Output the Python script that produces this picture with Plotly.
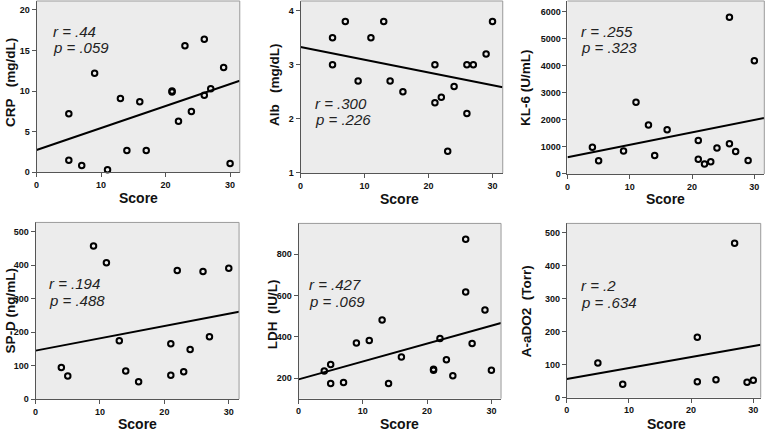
import plotly.graph_objects as go

# ---------------- data ----------------
crp_x = [5, 5, 7, 9, 11, 13, 14, 16, 17, 21, 21, 22, 23, 24, 26, 26, 27, 29, 30]
crp_y = [7.2, 1.5, 0.85, 12.2, 0.3, 9.1, 2.7, 8.7, 2.7, 10.0, 9.9, 6.3, 15.6, 7.5, 16.4, 9.5, 10.3, 12.9, 1.1]

alb_x = [5, 5, 7, 9, 11, 13, 14, 16, 21, 21, 22, 23, 24, 26, 26, 27, 29, 30]
alb_y = [3.5, 3.0, 3.8, 2.7, 3.5, 3.8, 2.7, 2.5, 3.0, 2.3, 2.4, 1.4, 2.6, 3.0, 2.1, 3.0, 3.2, 3.8]

kl6_x = [4, 5, 9, 11, 13, 14, 16, 21, 21, 22, 23, 24, 26, 26, 27, 29, 30]
kl6_y = [985, 485, 850, 2650, 1810, 680, 1630, 1240, 545, 365, 450, 960, 5790, 1120, 828, 495, 4185]

spd_x = [4, 5, 9, 11, 13, 14, 16, 21, 21, 22, 23, 24, 26, 27, 30]
spd_y = [94, 69, 457, 407, 174, 84, 52, 165, 71, 384, 82, 148, 381, 186, 391]

ldh_x = [4, 5, 5, 7, 9, 11, 13, 14, 16, 21, 21, 22, 23, 24, 26, 26, 27, 29, 30]
ldh_y = [234, 265, 174, 178, 369, 382, 481, 174, 302, 237, 242, 391, 288, 211, 871, 616, 367, 529, 238]

aado2_x = [5, 9, 21, 21, 24, 27, 29, 30]
aado2_y = [105, 41, 183, 48, 54, 467, 47, 53]

# regression lines (intercept, slope)
fit_intercept = [2.75, 3.33, 621, 144.7, 193.6, 56.8]
fit_slope = [0.271, -0.0236, 45.8, 3.67, 8.66, 3.32]

y_titles = ["CRP\u00a0\u00a0\u00a0(mg/dL)", "Alb\u00a0\u00a0\u00a0(mg/dL)", "KL-6 (U/mL)",
            "SP-D (ng/mL)", "LDH\u00a0\u00a0(IU/L)", "A-aDO2\u00a0\u00a0(Torr)"]
r_labels = ["r = .44", "r = .300", "r = .255", "r = .194", "r = .427", "r = .2"]
p_labels = ["p = .059", "p = .226", "p = .323", "p = .488", "p = .069", "p = .634"]
x_title = "Score"

xs = [crp_x, alb_x, kl6_x, spd_x, ldh_x, aado2_x]
ys = [crp_y, alb_y, kl6_y, spd_y, ldh_y, aado2_y]

# ---------------- layout (pixels) ----------------
W, H = 766, 437
def fx(p):
    return p / W
def fy(p):
    return 1 - p / H

# plot rectangles: left, right, top, bottom (px)
rects = [
    (33.7, 237.7, 1, 174.3),
    (298.7, 501.7, 1, 175),
    (566.7, 764.3, 1, 176),
    (32.7, 237, 225, 403.7),
    (296.7, 500, 226, 403.3),
    (566, 760.7, 226, 402.3),
]
x_ranges = [31.5, 31.6, 31.6, 31.6, 31.5, 31.2]
y_ranges = [(0, 21.1), (1, 4.18), (0, 6390), (0, 527.6), (100, 948), (0, 527)]
y_dticks = [5, 1, 1000, 100, 200, 100]
ytitle_pos = [(7, 83), (272, 86), (525, 88), (7, 314), (270, 318), (525, 315)]
xtitle_pos = [(136, 200), (398, 201), (665, 201), (135, 429), (398, 429), (666, 429)]
rp_pos = [(48, 32, 48.5), (311.7, 105, 121), (578.3, 31.7, 48.3),
          (44.3, 286.7, 304), (305, 287.7, 305), (578.3, 288.3, 305.7)]

FONT = "Liberation Sans, Arial, sans-serif"
AXIS_COL = "#555555"
BORDER_COL = "#9a9a9a"

fig = go.Figure()
layout = dict(width=W, height=H, margin=dict(l=0, r=0, t=0, b=0),
              paper_bgcolor="white", plot_bgcolor="#ececec", showlegend=False,
              font=dict(family=FONT, color="#111111"))
annotations = []
shapes = []

for i in range(6):
    n = i + 1
    sfx = "" if n == 1 else str(n)
    L, R, T, B = rects[i]
    xmax = x_ranges[i]
    # scatter
    fig.add_trace(go.Scatter(
        x=xs[i], y=ys[i], mode="markers",
        marker=dict(symbol="circle-open", size=5.5, color="black", line=dict(width=2, color="black")),
        xaxis="x" + sfx, yaxis="y" + sfx, cliponaxis=False))
    # fit line
    lx = [0, xmax]
    ly = [fit_intercept[i] + fit_slope[i] * v for v in lx]
    fig.add_trace(go.Scatter(x=lx, y=ly, mode="lines", line=dict(color="black", width=2),
                             xaxis="x" + sfx, yaxis="y" + sfx))
    layout["xaxis" + sfx] = dict(
        domain=[fx(L), fx(R)], anchor="y" + sfx, range=[0, xmax],
        tickmode="linear", tick0=0, dtick=10, ticks="outside", ticklen=4, tickwidth=1,
        tickcolor=AXIS_COL, showline=True, linecolor=AXIS_COL, linewidth=1,
        showgrid=False, zeroline=False,
        tickfont=dict(size=9, family=FONT, weight="bold", color="#111111"))
    layout["yaxis" + sfx] = dict(
        domain=[fy(B), fy(T)], anchor="x" + sfx, range=list(y_ranges[i]),
        tickmode="linear", tick0=0, dtick=y_dticks[i], ticks="outside", ticklen=4, tickwidth=1,
        tickcolor=AXIS_COL, showline=True, linecolor=AXIS_COL, linewidth=1,
        showgrid=False, zeroline=False,
        tickfont=dict(size=9, family=FONT, weight="bold", color="#111111"))
    # light border on top/right
    shapes.append(dict(type="line", xref="x" + sfx + " domain", yref="y" + sfx + " domain",
                       x0=0, x1=1, y0=1, y1=1, line=dict(color=BORDER_COL, width=1)))
    shapes.append(dict(type="line", xref="x" + sfx + " domain", yref="y" + sfx + " domain",
                       x0=1, x1=1, y0=0, y1=1, line=dict(color=BORDER_COL, width=1)))
    # titles
    tx, ty = ytitle_pos[i]
    annotations.append(dict(text=y_titles[i], x=fx(tx), y=fy(ty), xref="paper", yref="paper",
                            showarrow=False, textangle=-90, xanchor="center", yanchor="middle",
                            font=dict(size=13.5, family=FONT, weight="bold", color="#111111")))
    sx, sy = xtitle_pos[i]
    annotations.append(dict(text=x_title, x=fx(sx), y=fy(sy), xref="paper", yref="paper",
                            showarrow=False, xanchor="center", yanchor="middle",
                            font=dict(size=14, family=FONT, weight="bold", color="#111111")))
    px_, ry, py = rp_pos[i]
    annotations.append(dict(text="<i>" + r_labels[i] + "</i>", x=fx(px_), y=fy(ry),
                            xref="paper", yref="paper", showarrow=False,
                            xanchor="left", yanchor="middle",
                            font=dict(size=15, family=FONT, color="#222222")))
    annotations.append(dict(text="<i>" + p_labels[i] + "</i>", x=fx(px_), y=fy(py),
                            xref="paper", yref="paper", showarrow=False,
                            xanchor="left", yanchor="middle",
                            font=dict(size=15, family=FONT, color="#222222")))

layout["annotations"] = annotations
layout["shapes"] = shapes
fig.update_layout(**layout)
fig.write_html("out.html", config={"displayModeBar": False},
               post_script="document.body.style.margin='0px';document.body.style.overflow='hidden';")
